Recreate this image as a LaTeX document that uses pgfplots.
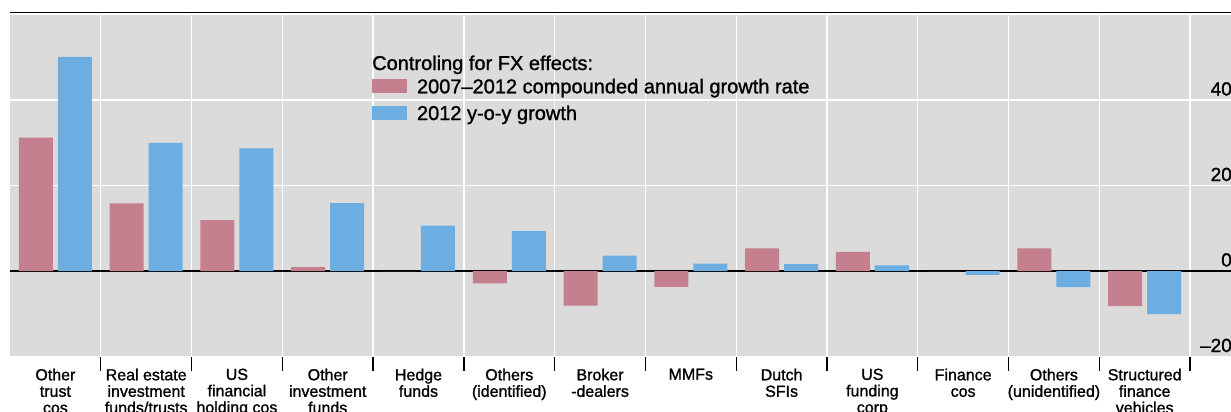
\documentclass[border=0pt]{standalone}
\usepackage{pgfplots}
\pgfplotsset{compat=1.18}
\usepackage{fontspec}
\setmainfont{Liberation Sans}[UprightFeatures={FakeBold=1.2}]
\definecolor{barred}{RGB}{196,128,142}
\definecolor{barblue}{RGB}{108,174,226}
\definecolor{bgray}{RGB}{219,219,219}
\begin{document}
\begin{tikzpicture}
\useasboundingbox (0pt,0pt) rectangle (1231pt,412pt);
\begin{axis}[
  at={(10pt,55.5pt)}, anchor=south west,
  width=1221pt, height=342pt, scale only axis,
  xmin=-0.5, xmax=12.951, ymin=-20, ymax=60,
  axis line style={draw=none},
  axis background/.style={fill=bgray},
  ybar=5pt, bar width=34pt,
  xtick={0,...,12},
  xticklabels={Other\\trust\\cos, Real estate\\investment\\funds/trusts, US\\financial\\holding cos, Other\\investment\\funds, Hedge\\funds, Others\\(identified), Broker\\-dealers, MMFs, Dutch\\SFIs, US\\funding\\corp, Finance\\cos, Others\\(unidentified), Structured\\finance\\vehicles},
  xticklabel style={font=\fontsize{16}{16.5}\selectfont, align=center, anchor=north, inner sep=0pt, yshift=-12pt},
  minor xtick={0.5,1.5,...,12.5},
  minor tick length=14pt,
  minor tick style={black, line width=1.3pt},
  major tick length=0pt,
  xtick pos=lower,
  xminorgrids=true, xmajorgrids=false,
  minor grid style={white, line width=1.4pt},
  ymajorgrids=true,
  major grid style={white, line width=1.4pt},
  ytick={-20,20,40},
  yticklabels={–20,20,40},
  extra y ticks={0},
  extra y tick labels={0},
  extra y tick style={major grid style={black, line width=1.2pt}},
  yticklabel pos=right,
  yticklabel style={font=\fontsize{19}{19}\selectfont, anchor=base east, inner sep=0pt, xshift=1pt, yshift=4.5pt},
  legend style={at={(0.29648,0.812)}, anchor=north west, draw=none, fill=none, inner sep=0pt, outer sep=0pt,
    font=\fontsize{20}{24}\selectfont, row sep=7.7pt, column sep=10pt,
    nodes={inner sep=0pt, text height=14.5pt, text depth=4.5pt},
    cells={anchor=base west}},
  legend image code/.code={\fill[#1,draw=none] (0pt,0pt) rectangle (35pt,14pt);},
]
\addplot[fill=barred, draw=none] coordinates {(0,31.2) (1,15.8) (2,11.9) (3,0.9) (4,0) (5,-2.9) (6,-8.1) (7,-3.7) (8,5.3) (9,4.5) (10,0) (11,5.3) (12,-8.2)};
\addplot[fill=barblue, draw=none] coordinates {(0,50.1) (1,30.0) (2,28.7) (3,15.9) (4,10.6) (5,9.3) (6,3.6) (7,1.7) (8,1.6) (9,1.3) (10,-0.9) (11,-3.8) (12,-10.1)};
\legend{2007–2012 compounded annual growth rate, 2012 y-o-y growth}
\node[anchor=base west, inner sep=0pt, font=\fontsize{20}{24}\selectfont] at (rel axis cs:0.29648,0.8377) {Controling for FX effects:};
\end{axis}
\draw[line width=1.2pt] (10pt,399.7pt) -- (1231pt,399.7pt);
\end{tikzpicture}
\end{document}
